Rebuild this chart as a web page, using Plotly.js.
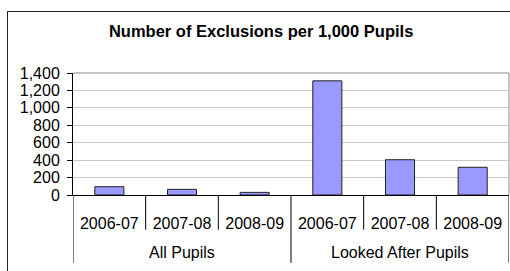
<!DOCTYPE html>
<html>
<head>
<meta charset="utf-8">
<script src="https://cdn.plot.ly/plotly-3.0.1.min.js"></script>
<style>
html,body{margin:0;padding:0;overflow:hidden;background:#fff;}
#frame{position:absolute;left:7px;top:11px;width:540px;height:300px;border:1px solid #222;box-sizing:border-box;}
#chart{position:absolute;left:0;top:0;width:510px;height:271px;}
</style>
</head>
<body>
<div id="frame"></div>
<div id="chart"></div>
<script>
const groups = ["All Pupils","All Pupils","All Pupils","Looked After Pupils","Looked After Pupils","Looked After Pupils"];
const periods = ["2006-07","2007-08","2008-09","2006-07","2007-08","2008-09"];
const values = [95, 65, 30, 1310, 405, 318];
const yTicks = [0,200,400,600,800,1000,1200,1400];
const yTickText = ["0","200","400","600","800","1,000","1,200","1,400"];
const titleText = "Number of Exclusions per 1,000 Pupils";

const font = "Liberation Sans, Arial, sans-serif";
const keys = groups.map((g, i) => g + " " + periods[i]);

const annotations = [];
const shapes = [];
let start = 0;
const groupBounds = [-0.5];
for (let i = 1; i <= groups.length; i++) {
  if (i === groups.length || groups[i] !== groups[start]) {
    annotations.push({x: (start + i - 1) / 2, xref: "x", y: -0.472, yref: "paper",
      text: groups[start], showarrow: false, xanchor: "center", yanchor: "middle",
      font: {family: font, size: 16, color: "#000"}});
    groupBounds.push(i - 0.5);
    start = i;
  }
}
for (let i = 0; i <= groups.length; i++) {
  const b = i - 0.5;
  const isGroup = groupBounds.includes(b);
  shapes.push({type: "line", xref: "x", yref: "paper", x0: b, x1: b, y0: 0, y1: isGroup ? -0.556 : -0.284,
    line: {color: "#000", width: 1}});
}
shapes.push({type: "line", xref: "paper", yref: "paper", x0: 0, x1: 1, y0: 1, y1: 1, line: {color: "#888", width: 1}, layer: "below"});
shapes.push({type: "line", xref: "paper", yref: "paper", x0: 1, x1: 1, y0: 0, y1: 1, line: {color: "#888", width: 1}, layer: "below"});

Plotly.newPlot("chart", [{
  type: "bar",
  x: keys,
  y: values,
  marker: {color: "#9999ff", line: {color: "#222", width: 1}},
  hoverinfo: "none"
}], {
  width: 510, height: 271,
  margin: {l: 73, r: 1, t: 73, b: 76},
  paper_bgcolor: "rgba(0,0,0,0)",
  plot_bgcolor: "#fff",
  bargap: 0.6,
  showlegend: false,
  title: {text: "<b>" + titleText + "</b>", font: {family: font, size: 16.5, color: "#000"},
          x: 0.512, xref: "container", y: 0.886, yref: "container", xanchor: "center", yanchor: "middle"},
  xaxis: {
    type: "category",
    range: [-0.5, 5.5],
    tickvals: keys, ticktext: periods,
    showline: true, linecolor: "#000", linewidth: 1,
    ticks: "",
    ticklabelstandoff: 14,
    tickfont: {family: font, size: 16, color: "#000"},
    showgrid: false, fixedrange: true
  },
  yaxis: {
    range: [0, 1400], tickvals: yTicks, ticktext: yTickText,
    showline: true, linecolor: "#000", linewidth: 1,
    ticks: "outside", ticklen: 5, tickcolor: "#000",
    ticklabelstandoff: 4,
    gridcolor: "#c8c8c8", gridwidth: 1,
    tickfont: {family: font, size: 16, color: "#000"},
    zeroline: false, fixedrange: true
  },
  annotations: annotations,
  shapes: shapes
}, {staticPlot: true});
</script>
</body>
</html>
